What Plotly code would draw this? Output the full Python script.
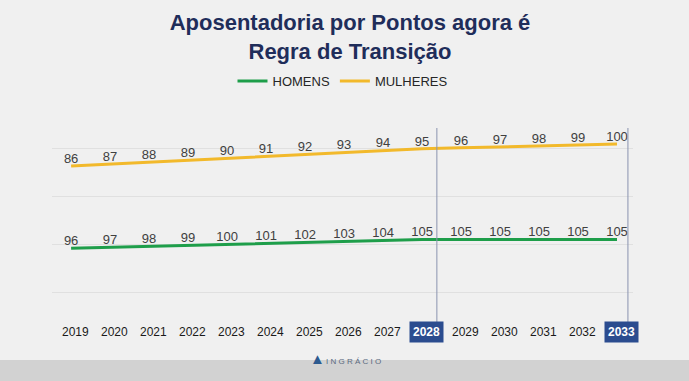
import plotly.graph_objects as go

years = list(range(2019, 2034))
homens = [96, 97, 98, 99, 100, 101, 102, 103, 104, 105, 105, 105, 105, 105, 105]
mulheres = [86, 87, 88, 89, 90, 91, 92, 93, 94, 95, 96, 97, 98, 99, 100]
highlight_years = [2028, 2033]

title_text = "Aposentadoria por Pontos agora é<br>Regra de Transição"
green = "#1E9E4A"
yellow = "#F2B92B"
navy = "#1F2D5A"
box_blue = "#2B4C8F"
bg = "#F0F0F0"

fig = go.Figure()
fig.add_trace(go.Scatter(
    x=years, y=homens, name="HOMENS", stackgroup="s", fill="none",
    mode="lines+text", line=dict(color=green, width=3),
    text=[str(v) for v in homens], textposition="top center",
    textfont=dict(family="Liberation Sans, Arial", size=13, color="#404040"),
    hoverinfo="skip"))
fig.add_trace(go.Scatter(
    x=years, y=mulheres, name="MULHERES", stackgroup="s", fill="none",
    mode="lines+text", line=dict(color=yellow, width=3),
    text=[str(v) for v in mulheres], textposition="top center",
    textfont=dict(family="Liberation Sans, Arial", size=13, color="#404040"),
    hoverinfo="skip"))

# vertical markers for highlighted years
for yr in highlight_years:
    xv = yr + 0.38 if yr == 2028 else yr + 0.28
    fig.add_shape(type="line", xref="x", yref="paper", x0=xv, x1=xv,
                  y0=0.075, y1=0.887, line=dict(color="#8A93B0", width=1))

# year labels
for yr in years:
    hl = yr in highlight_years
    fig.add_annotation(
        x=yr, y=0.033, xref="x", yref="paper", text=f"<b>{yr}</b>" if hl else str(yr),
        showarrow=False, xshift=4, yanchor="middle",
        font=dict(family="Liberation Sans, Arial", size=12,
                  color="white" if hl else "#1A1A1A"),
        bgcolor=box_blue if hl else None, borderpad=3 if hl else 0)

# footer band
fig.add_shape(type="rect", xref="paper", yref="paper", x0=-0.2, x1=1.2,
              y0=-41/239, y1=-20/239, fillcolor="#D2D2D2", line=dict(width=0), layer="below")
fig.add_annotation(xref="paper", yref="paper", x=(317 - 52) / 581, y=-30/239,
                   text="▲", showarrow=False, font=dict(size=15, color="#2C5A8F"))
fig.add_annotation(xref="paper", yref="paper", x=(353 - 52) / 581, y=-28/239,
                   text="I N G R Á C I O", showarrow=False,
                   font=dict(family="Liberation Sans, Arial", size=8, color="#5A6A80"))

fig.update_layout(
    width=689, height=381,
    paper_bgcolor=bg, plot_bgcolor=bg,
    margin=dict(l=52, r=56, t=101, b=41),
    title=dict(text=title_text, x=350/689, xanchor="center", y=1 - 30/381, yanchor="middle",
               font=dict(family="Liberation Sans, Arial", size=22, color=navy, weight="bold")),
    legend=dict(orientation="h", x=0.5, xanchor="center", y=(340 - 81) / 239, yanchor="middle",
                font=dict(family="Liberation Sans, Arial", size=13, color="#262626"),
                bgcolor="rgba(0,0,0,0)", itemwidth=30),
    xaxis=dict(range=[2018.51, 2033.41], showticklabels=False, showgrid=False,
               zeroline=False, showline=False, ticks=""),
    yaxis=dict(range=[0, 250], dtick=50, showticklabels=False, showgrid=True,
               gridcolor="#E0E0E0", gridwidth=1, zeroline=False, showline=False, ticks=""),
    showlegend=True,
)

fig.write_html("out.html", config={"displayModeBar": False},
               post_script="document.body.style.margin='0';document.body.style.background='#F0F0F0';")
